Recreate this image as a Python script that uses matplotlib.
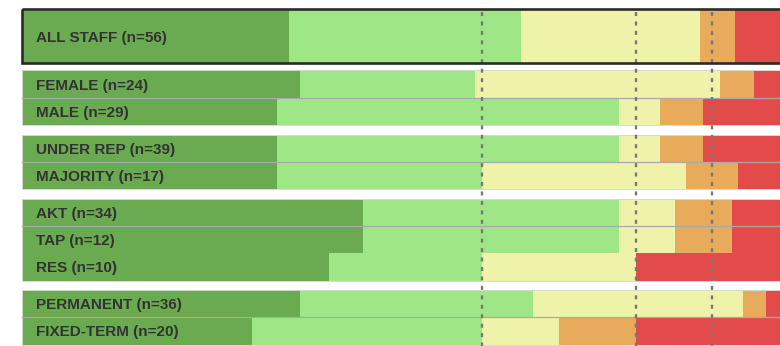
import matplotlib
matplotlib.use("Agg")
import matplotlib.pyplot as plt
from matplotlib.patches import Rectangle

# Response shares per group (percent of respondents), from most to least favourable
labels = ["ALL STAFF (n=56)", "FEMALE (n=24)", "MALE (n=29)", "UNDER REP (n=39)",
          "MAJORITY (n=17)", "AKT (n=34)", "TAP (n=12)", "RES (n=10)",
          "PERMANENT (n=36)", "FIXED-TERM (n=20)"]
very_positive = [17.4, 18.1, 16.6, 16.6, 16.6, 22.2, 22.2, 20.0, 18.1, 15.0]
positive      = [15.1, 11.4, 22.3, 22.3, 13.4, 16.7, 16.7, 10.0, 15.2, 15.0]
neutral       = [11.7, 16.0,  2.7,  2.7, 13.3,  3.7,  3.7, 10.0, 13.7,  5.0]
negative      = [ 2.3,  2.2,  2.8,  2.8,  3.4,  3.7,  3.7,  0.0,  1.5,  5.0]
very_negative = [53.5, 52.3, 55.6, 55.6, 53.3, 53.7, 53.7, 60.0, 51.5, 60.0]

# Benchmark markers (percent)
benchmarks = [30, 40, 45]

# Row grouping (number of rows in each block) and which rows get a rule beneath
groups = [1, 2, 2, 3, 2]
ruled_below = {"FEMALE (n=24)", "UNDER REP (n=39)", "AKT (n=34)", "PERMANENT (n=36)"}

series = [very_positive, positive, neutral, negative, very_negative]
colors = ["#6aaa50", "#9ee686", "#eff2a9", "#e8ab5c", "#e34b4b"]

W, H = 780, 346
fig = plt.figure(figsize=(W / 100, H / 100), dpi=100)
ax = fig.add_axes([0, 0, 1, 1])
px_per_pct = 15.34
ax.set_xlim(-22 / px_per_pct, (W - 22) / px_per_pct)
ax.set_ylim(H, 0)
ax.axis("off")

row_h = 27.3
top = 8.8
gaps = [7.0, 9.5, 9.5, 9.5]

# lay out rows: the overall row spans two row heights
rows = []  # (y_top, height)
y = top
for gi, n in enumerate(groups):
    g_top = y
    for k in range(n):
        h = row_h * 2 if gi == 0 else row_h
        rows.append((y, h))
        y += h
    if gi > 0:
        ax.add_patch(Rectangle((0, g_top), 100, y - g_top, fill=False,
                               edgecolor="#d4dccf", lw=0.7, zorder=3))
    if gi < len(gaps):
        y += gaps[gi]

for i, lab in enumerate(labels):
    yt, h = rows[i]
    left = 0.0
    for vals, c in zip(series, colors):
        w = vals[i]
        if w > 0:
            ax.barh(yt + h / 2, w, height=h, left=left, color=c,
                    edgecolor="none", zorder=2)
        left += w
    ax.annotate(lab, (0, yt + h / 2), xytext=(10, -1.1), textcoords="offset points",
                ha="left", va="center", fontsize=11.0, fontweight="bold",
                color="#333333", family=["Liberation Sans", "DejaVu Sans"], zorder=6)
    if lab in ruled_below:
        ax.plot([0, 100], [yt + h, yt + h], color="#a9a9a9", lw=0.9, zorder=3)

# heavy frame around the overall row
yt, h = rows[0]
ax.add_patch(Rectangle((0, yt), 100, h, fill=False, edgecolor="#2b2b2b",
                       lw=1.9, zorder=5, clip_on=True))

for b in benchmarks:
    ax.plot([b, b], [12, H], color="#787878", lw=1.7,
            linestyle=(0, (1.7, 2.3)), zorder=4)

fig.savefig("out.png", dpi=100)
